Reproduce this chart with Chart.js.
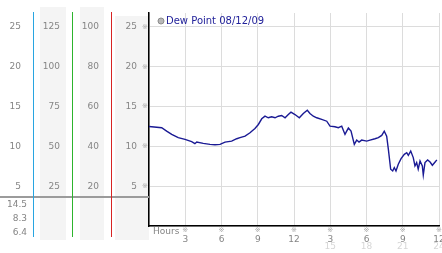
<!DOCTYPE html>
<html>
<head>
<meta charset="utf-8">
<script src="https://cdn.jsdelivr.net/npm/chart.js@4"></script>
<style>
  html, body { margin: 0; padding: 0; background: #fff; }
  canvas { display: block; }
</style>
</head>
<body>
<canvas id="dew-chart" width="442" height="253"></canvas>
<script>
// dew point readings, hours since midnight
const hours = [0, 1.05, 1.46, 1.88, 2.42, 2.98, 3.53, 3.8, 3.95, 4.49, 5.05, 5.46, 5.88, 6.29, 6.84, 7.26,
  7.53, 7.95, 8.36, 8.5, 8.77, 9.05, 9.33, 9.6, 9.87, 10.15, 10.43, 10.7, 10.98, 11.26, 11.53, 11.75,
  12.08, 12.44, 12.77, 13.1, 13.32, 13.6, 13.88, 14.29, 14.71, 14.98, 15.39, 15.67, 15.95, 16.22, 16.36,
  16.5, 16.72, 16.99, 17.19, 17.38, 17.6, 18.02, 18.29, 18.7, 18.98, 19.26, 19.47, 19.67, 19.81, 20.0,
  20.17, 20.3, 20.44, 20.63, 20.86, 21.13, 21.33, 21.46, 21.66, 21.87, 22.01, 22.15, 22.28, 22.43, 22.62,
  22.7, 22.84, 23.06, 23.26, 23.45, 23.68, 23.82];
const dewPoint = [12.5, 12.34, 11.91, 11.5, 11.09, 10.88, 10.59, 10.34, 10.54, 10.38, 10.25, 10.21, 10.25, 10.54, 10.66, 10.96,
  11.09, 11.29, 11.71, 11.9, 12.25, 12.75, 13.46, 13.79, 13.59, 13.71, 13.59, 13.79, 13.88, 13.59, 14.0, 14.29,
  14.0, 13.59, 14.13, 14.54, 14.13, 13.79, 13.59, 13.38, 13.16, 12.54, 12.46, 12.34, 12.54, 11.5, 11.91,
  12.3, 11.91, 10.25, 10.79, 10.54, 10.79, 10.66, 10.79, 10.96, 11.09, 11.38, 11.91, 11.29, 9.63, 7.13,
  6.91, 7.34, 6.91, 7.75, 8.46, 9.0, 9.21, 8.88, 9.41, 8.59, 7.54, 7.96, 7.13, 8.16, 7.54,
  6.4, 7.96, 8.29, 8.04, 7.63, 8.04, 8.3];
const seriesLabel = 'Dew Point 08/12/09';

// max / now / min printed under the scales
const stats = ['14.5', '8.3', '6.4'];

// scale columns, bottom to top
const colA = ['5', '10', '15', '20', '25'];
const colB = ['25', '50', '75', '100', '125'];
const colC = ['20', '40', '60', '80', '100'];
const colD = ['5', '10', '15', '20', '25'];

// x tick labels
const hourLabels = ['3', '6', '9', '12', '3', '6', '9', '12'];
const hour24Labels = ['', '', '', '', '15', '18', '21', '24'];

const ink = '#858585';
const font9 = { family: 'DejaVu Sans', size: 9 };
const yMax = 26.75;

function sideAxis(labels, w, weight) {
  return {
    type: 'linear', position: 'left', weight: weight,
    min: 0, max: yMax,
    grid: { display: false, drawTicks: false },
    border: { display: false },
    ticks: {
      stepSize: 5, includeBounds: false, padding: 12, color: ink, font: font9,
      callback: v => labels[v / 5 - 1] || ''
    },
    afterFit: s => { s.width = w; s.paddingTop = 0; s.paddingBottom = 0; }
  };
}

const mark = (c, x, y) => {
  c.fillText('\u203B', x, y);
};

// column rules: cyan, green, red
const ruleColours = ['rgb(40,165,225)', 'rgb(45,180,45)', 'rgb(215,35,35)'];

const panel = {
  id: 'panel',
  afterLayout(chart) {
    // let the hour labels run below their short box
    chart.scales.x.bottom = chart.height;
  },
  beforeDraw(chart) {
    const c = chart.ctx, s = chart.scales;
    c.save();
    c.fillStyle = '#fff';
    c.fillRect(0, 0, chart.width, chart.height);
    c.fillStyle = '#f4f4f4';
    c.fillRect(s.yB.left + 7, 7, 26, 233);
    c.fillRect(s.yC.left + 8, 7, 24, 233);
    c.fillRect(s.y.left + 4, 16, s.y.right - s.y.left - 4, 224);
    c.restore();
  },
  afterDraw(chart) {
    const c = chart.ctx, s = chart.scales, area = chart.chartArea;
    c.save();
    c.fillStyle = 'rgb(155,155,155)';
    c.fillRect(0, 196, area.left, 2);
    // coloured column rules
    const edges = [s.yA.right, s.yB.right, s.yC.right];
    edges.forEach((x, i) => {
      c.fillStyle = ruleColours[i];
      c.fillRect(Math.round(x), 12, 1, 225);
    });

    c.font = '9px "DejaVu Sans"';
    c.fillStyle = ink;
    c.textAlign = 'right';
    c.textBaseline = 'middle';
    stats.forEach((t, i) => c.fillText(t, 27, 205 + i * 14));

    c.textAlign = 'left';
    c.fillText('Hours', area.left + 4, area.bottom + 6);

    // small tick marks
    c.font = '7px "DejaVu Sans"';
    c.fillStyle = '#a8a8a8';
    c.textAlign = 'center';
    s.y.ticks.forEach(t => { if (t.value > 0) mark(c, area.left - 4, s.y.getPixelForValue(t.value)); });
    s.x.ticks.forEach(t => { if (t.value > 0) mark(c, s.x.getPixelForValue(t.value), area.bottom + 4); });

    // legend
    c.beginPath();
    c.arc(area.left + 12, 21, 3, 0, Math.PI * 2);
    c.fillStyle = '#b8b8b8';
    c.fill();
    c.strokeStyle = '#8c8c8c';
    c.lineWidth = 1;
    c.stroke();
    c.font = '10px "DejaVu Sans"';
    c.fillStyle = '#22229a';
    c.textAlign = 'left';
    c.fillText(chart.data.datasets[0].label, area.left + 17, 21);
    c.restore();
  }
};

new Chart(document.getElementById('dew-chart'), {
  type: 'line',
  data: {
    datasets: [{
      label: seriesLabel,
      data: hours.map((h, i) => ({ x: h, y: dewPoint[i] })),
      borderColor: '#1a1a94',
      borderWidth: 1.4,
      pointRadius: 0,
      tension: 0,
      xAxisID: 'x',
      yAxisID: 'y'
    }]
  },
  options: {
    responsive: false,
    animation: false,
    devicePixelRatio: 1,
    layout: { padding: { left: 0, top: 13, right: 3, bottom: 0 } },
    plugins: { legend: { display: false }, tooltip: { enabled: false } },
    scales: {
      x: {
        type: 'linear', position: 'bottom', weight: 0, min: 0, max: 24,
        grid: { color: '#dcdcdc', drawTicks: false },
        border: { color: '#000', width: 1.5 },
        ticks: {
          stepSize: 3, autoSkip: false, maxRotation: 0, padding: 8, color: ink, font: font9,
          callback: v => hourLabels[v / 3 - 1] || ''
        },
        afterFit: s => { s.height = 10; s.paddingLeft = 0; s.paddingRight = 0; }
      },
      x2: {
        type: 'linear', position: 'bottom', weight: 1, min: 0, max: 24,
        grid: { display: false, drawTicks: false },
        border: { display: false },
        ticks: {
          stepSize: 3, autoSkip: false, maxRotation: 0, padding: 5, color: '#d6d6d6', font: font9,
          callback: v => hour24Labels[v / 3 - 1] || ''
        },
        afterFit: s => { s.height = 17; s.paddingLeft = 0; s.paddingRight = 0; }
      },
      y: {
        type: 'linear', position: 'left', weight: 1, min: 0, max: yMax,
        grid: { color: '#dcdcdc', drawTicks: false },
        border: { color: '#000', width: 1.5 },
        ticks: {
          stepSize: 5, includeBounds: false, padding: 12, color: ink, font: font9,
          callback: v => colD[v / 5 - 1] || ''
        },
        afterFit: s => { s.width = 38; s.paddingTop = 0; s.paddingBottom = 0; }
      },
      yC: sideAxis(colC, 39, 2),
      yB: sideAxis(colB, 39, 3),
      yA: sideAxis(colA, 33, 4)
    }
  },
  plugins: [panel]
});
</script>
</body>
</html>
